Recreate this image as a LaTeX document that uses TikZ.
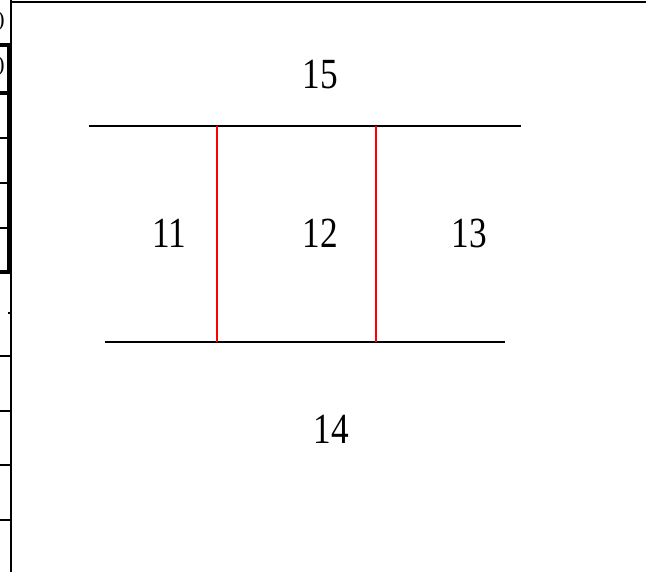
\documentclass[tikz,border=0pt]{standalone}
\usepackage{fontspec}
\setmainfont{Liberation Serif}
\usepackage{tikz}
\usetikzlibrary{positioning}

\begin{document}
\begin{tikzpicture}[
  x=1pt, y=-1pt,
  num/.style   ={font=\fontsize{43}{45}\selectfont, inner sep=0pt, xscale=0.82},
  wall/.style  ={draw=black, line width=1.3pt},
  part/.style  ={draw=red, line width=1.3pt},
  frame/.style ={draw=black, line width=1.6pt},
  heavy/.style ={draw=black, line width=3.6pt},
  paren/.style ={font=\fontsize{22}{24}\selectfont, inner sep=0pt, anchor=east},
]
\useasboundingbox (0,0) rectangle (649,572);
% ---------------- page frame and cut table (left edge) ----------------
\coordinate (ftl) at (11,0);
\coordinate (fbl) at (11,572);
\coordinate (ftr) at (646,2);
\coordinate (ftp) at (11,2);
\draw[frame] (ftl) -- (fbl);
\draw[frame] (ftp) -- (ftr);
\node[paren] (pa) at (5,21) {)};
\node[paren] (pb) at (5,66) {)};
\coordinate (t1) at (8.5,45);
\coordinate (t2) at (8.5,272);
\draw[heavy] (t1) -- (t2);
\foreach \yy/\st in {45/heavy, 93/heavy, 138/frame, 183/frame, 228/frame, 272/heavy,
                     356/frame, 411/frame, 465/frame, 520/frame} {
  \draw[\st] (0,\yy) -- (11,\yy);
}
\draw[frame] (8,313) -- (11,313);
% ---------------- walls ----------------
\coordinate (wtl) at (89,126);
\coordinate (wtr) at (521,126);
\coordinate (wbl) at (105,342);
\coordinate (wbr) at (505,342);
\draw[wall] (wtl) -- (wtr);
\draw[wall] (wbl) -- (wbr);
% ---------------- partitions (red) ----------------
\coordinate (pla) at (217,126);
\coordinate (plb) at (217,342);
\coordinate (pra) at (376,126);
\coordinate (prb) at (376,342);
\draw[part] (pla) -- (plb);
\draw[part] (pra) -- (prb);
% ---------------- labels ----------------
\node[num] (n15) at (320,75)  {15};
\node[num] (n11) at (169,233) {11};
\node[num] (n12) at (320,233) {12};
\node[num] (n13) at (469,233) {13};
\node[num] (n14) at (331,429) {14};
\end{tikzpicture}
\end{document}
